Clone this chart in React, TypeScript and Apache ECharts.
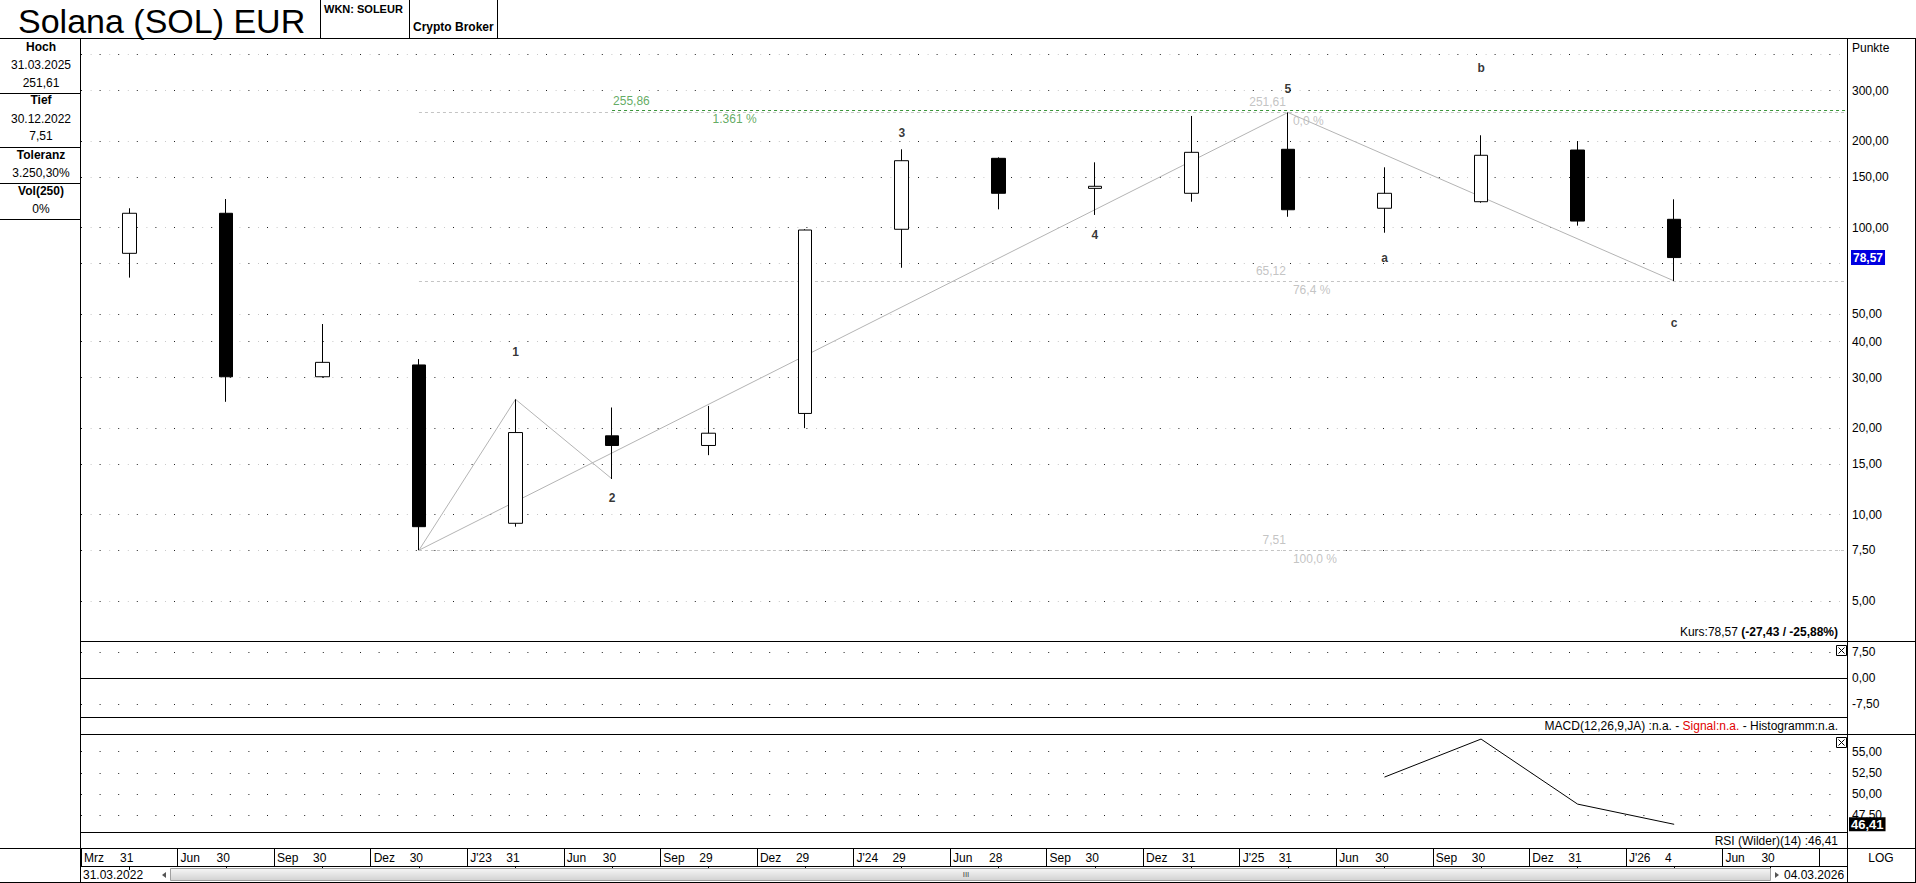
import React, { useEffect, useRef } from "react";
import * as echarts from "echarts";

const FONT = "'Liberation Sans', Arial, Helvetica, sans-serif";

// ---- data ----
const MONTHS = ["Mrz", "Jun", "Sep", "Dez", "J'23", "Jun", "Sep", "Dez", "J'24", "Jun", "Sep", "Dez", "J'25", "Jun", "Sep", "Dez", "J'26", "Jun"];
const DAYS = ["31", "30", "30", "30", "31", "30", "29", "29", "29", "28", "30", "31", "31", "30", "30", "31", "4", "30"];

const OPEN = [81.3, 112.1, 30.2, 33.2, 9.32, 18.8, 17.4, 22.5, 98.6, 174.2, 136.9, 131.6, 187.3, 116.7, 123.0, 186.2, 106.8];
const CLOSE = [112.1, 30.2, 33.9, 9.07, 19.3, 17.4, 19.2, 98.0, 170.9, 131.6, 139.2, 182.8, 115.3, 131.6, 178.5, 105.3, 78.57];
const LOW = [66.9, 24.7, 30.0, 7.51, 9.07, 13.3, 16.1, 20.0, 72.4, 115.7, 110.6, 123.0, 109.0, 95.9, 122.0, 101.5, 65.12];
const HIGH = [116.7, 125.7, 46.1, 34.8, 25.2, 23.6, 23.9, 98.6, 187.3, 175.6, 168.7, 244.7, 251.61, 162.1, 209.6, 200.1, 125.4];

const RSI_FROM = 13;
const RSI_VALUES = [52.0, 56.5, 48.8, 46.41];
const RSI_LAST = 46.41;
const LAST = 78.57;

const PRICE_TICKS = [300, 200, 150, 100, 50, 40, 30, 20, 15, 10, 7.5, 5];
const PRICE_UNLABELLED = [400, 75];
const MACD_TICKS = [7.5, -7.5];
const RSI_TICKS = [55, 52.5, 50, 47.5];

const FIB_LEVELS = [251.61, 65.12, 7.51];
const FIB_PCT = ["0,0 %", "76,4 %", "100,0 %"];
const FIB_FROM = 3; // candle of the low
const FIB_PIVOT = 12; // candle of the high
const TARGET = 255.86;
const TARGET_PCT = "1.361 %";
const TARGET_FROM = 5;

const WAVE_A = [3, 4, 5]; // low -> 1 -> 2
const WAVE_B = [3, 12, 16]; // low -> 5 -> c
const WAVE_LABELS = ["1", "2", "3", "4", "5", "a", "b", "c"];
const WAVE_IDX = [4, 5, 8, 10, 12, 13, 14, 16];
const WAVE_VAL = [36.8, 11.46, 213.4, 94.2, 303.8, 78.3, 359.6, 46.6];

// ---- layout ----
const XMAX = 18.29;
const Y_MIN = 3.625;
const Y_MAX = 457.4;

const fmt = (v: number) => v.toFixed(2).replace(".", ",");
const cx = (i: number) => i + 0.5;

const ln = (x1: number, y1: number, x2: number, y2: number, stroke = "#000") => ({
  type: "line",
  silent: true,
  z: 100,
  shape: { x1, y1, x2, y2 },
  style: { stroke, lineWidth: 1 },
});

const txt = (x: number, y: number, text: string, o: any = {}) => ({
  type: "text",
  x,
  y,
  silent: true,
  z: 101,
  style: {
    text,
    fill: o.fill || "#000",
    fontSize: o.size || 12,
    fontFamily: FONT,
    fontWeight: o.bold ? "bold" : "normal",
    align: o.align || "left",
    textAlign: o.align || "left",
    verticalAlign: "middle",
    textVerticalAlign: "middle",
    rich: o.rich,
  },
});

const closeBox = (x: number, y: number) => [
  { type: "rect", silent: true, z: 101, shape: { x, y, width: 10, height: 10 }, style: { fill: "#fff", stroke: "#000", lineWidth: 1 } },
  { ...ln(x + 2, y + 2, x + 8, y + 8), z: 102 },
  { ...ln(x + 8, y + 2, x + 2, y + 8), z: 102 },
];

function buildOption(): any {
  const candles = OPEN.map((o, i) => [cx(i), o, CLOSE[i], LOW[i], HIGH[i]]);
  const waveA = WAVE_A.map((i, k) => [cx(i), k === 1 ? HIGH[i] : LOW[i]]);
  const waveB = WAVE_B.map((i, k) => [cx(i), k === 1 ? HIGH[i] : LOW[i]]);
  const rsi = RSI_VALUES.map((v, k) => [cx(RSI_FROM + k), v]);

  const labelBase = { fontSize: 12, fontFamily: FONT, color: "#000", distance: 5 };
  const blackDots = { type: [1, 17.6], color: "#222", width: 1 };
  const grayDots = { type: [1, 17.6], color: "#c8c8c8", width: 1, dashOffset: 9.3 };

  const priceRows: any[] = [
    ...PRICE_UNLABELLED.map((v) => ({ yAxis: v, label: { show: false } })),
    ...PRICE_TICKS.map((v) => ({ yAxis: v, label: { show: true, formatter: fmt(v) } })),
    {
      yAxis: LAST,
      lineStyle: { color: "rgba(0,0,0,0)" },
      label: {
        show: true,
        formatter: fmt(LAST),
        backgroundColor: "#0000e0",
        color: "#fff",
        fontWeight: "bold",
        padding: [2, 2, 1, 2],
        distance: 4,
      },
    },
  ];

  const textItems: any[] = [
    ...WAVE_LABELS.map((t, k) => ({
      value: [cx(WAVE_IDX[k]), WAVE_VAL[k]],
      label: { formatter: t, fontWeight: "bold", color: "#000", align: "center", verticalAlign: "middle" },
    })),
    ...FIB_LEVELS.map((v) => ({
      value: [cx(FIB_PIVOT), v],
      label: { formatter: fmt(v), color: "#b4b4b4", align: "right", verticalAlign: "middle", offset: [-2, -10] },
    })),
    ...FIB_LEVELS.map((v, k) => ({
      value: [cx(FIB_PIVOT), v],
      label: { formatter: FIB_PCT[k], color: "#b4b4b4", align: "left", verticalAlign: "middle", offset: [5, 9] },
    })),
    {
      value: [cx(TARGET_FROM), TARGET],
      label: { formatter: fmt(TARGET), color: "#3a953a", align: "left", verticalAlign: "middle", offset: [1, -9] },
    },
    {
      value: [cx(TARGET_FROM + 1), TARGET],
      label: { formatter: TARGET_PCT, color: "#3a953a", align: "left", verticalAlign: "middle", offset: [4, 9] },
    },
  ];

  const graphics: any[] = [
    // header
    ln(0, 38.5, 1916, 38.5),
    ln(320.5, 0, 320.5, 38.5),
    ln(409.5, 0, 409.5, 38.5),
    ln(497.5, 0, 497.5, 38.5),
    txt(18, 21, "Solana (SOL) EUR", { size: 34 }),
    txt(324, 9, "WKN: SOLEUR", { bold: true, size: 11 }),
    txt(413, 27, "Crypto Broker", { bold: true, size: 12 }),
    // left info panel
    ln(0, 93.5, 81, 93.5),
    ln(0, 147.5, 81, 147.5),
    ln(0, 183.5, 81, 183.5),
    ln(0, 219.5, 81, 219.5),
    txt(41, 47, "Hoch", { bold: true, align: "center" }),
    txt(41, 64.5, "31.03.2025", { align: "center" }),
    txt(41, 82.5, "251,61", { align: "center" }),
    txt(41, 100, "Tief", { bold: true, align: "center" }),
    txt(41, 118.5, "30.12.2022", { align: "center" }),
    txt(41, 136, "7,51", { align: "center" }),
    txt(41, 155, "Toleranz", { bold: true, align: "center" }),
    txt(41, 173, "3.250,30%", { align: "center" }),
    txt(41, 191, "Vol(250)", { bold: true, align: "center" }),
    txt(41, 209, "0%", { align: "center" }),
    // frame
    ln(80.5, 38.5, 80.5, 883),
    ln(1847.5, 38.5, 1847.5, 883),
    ln(1915.5, 38.5, 1915.5, 883),
    ln(80.5, 641.5, 1916, 641.5),
    ln(80.5, 717.5, 1847.5, 717.5),
    ln(80.5, 734.5, 1916, 734.5),
    ln(80.5, 832.5, 1847.5, 832.5),
    ln(0, 848.5, 1916, 848.5),
    ln(80.5, 866.5, 1847.5, 866.5),
    ln(0, 882.5, 1916, 882.5),
    // right column texts
    txt(1852, 48, "Punkte"),
    txt(1881, 857.5, "LOG", { align: "center" }),
    // panel captions
    txt(1838, 632, "Kurs:78,57 {b|(-27,43 / -25,88%)}", {
      align: "right",
      rich: { b: { fontWeight: "bold", fontSize: 12, fontFamily: FONT, fill: "#000" } },
    }),
    txt(1838, 725.5, "MACD(12,26,9,JA) :n.a. - {r|Signal:n.a.} - Histogramm:n.a.", {
      align: "right",
      rich: { r: { fill: "#e00000", fontSize: 12, fontFamily: FONT } },
    }),
    txt(1838, 840.5, "RSI (Wilder)(14) :46,41", { align: "right" }),
    ...closeBox(1836.5, 645.5),
    ...closeBox(1836.5, 737.5),
    // scroll row
    txt(83, 875, "31.03.2022"),
    { type: "polygon", silent: true, z: 101, shape: { points: [[166, 872], [166, 878], [162, 875]] }, style: { fill: "#555" } },
    {
      type: "rect",
      silent: true,
      z: 100,
      shape: { x: 170.5, y: 868.5, width: 1600, height: 12 },
      style: {
        fill: new echarts.graphic.LinearGradient(0, 0, 0, 1, [
          { offset: 0, color: "#f6f6f6" },
          { offset: 1, color: "#d2d2d2" },
        ]),
        stroke: "#a0a0a0",
        lineWidth: 1,
      },
    },
    txt(966, 874.5, "III", { align: "center", size: 8, fill: "#444" }),
    { type: "polygon", silent: true, z: 101, shape: { points: [[1775, 872], [1775, 878], [1779, 875]] }, style: { fill: "#555" } },
    txt(1784, 875, "04.03.2026"),
  ];

  return {
    animation: false,
    backgroundColor: "#fff",
    textStyle: { fontFamily: FONT },
    grid: [
      { left: 81, top: 38, width: 1766, height: 603 },
      { left: 81, top: 641, width: 1766, height: 76 },
      { left: 81, top: 734, width: 1766, height: 98 },
      { left: 81, top: 848, width: 1766, height: 18 },
    ],
    xAxis: [
      { type: "value", gridIndex: 0, min: 0, max: XMAX, show: false },
      { type: "value", gridIndex: 1, min: 0, max: XMAX, show: false },
      { type: "value", gridIndex: 2, min: 0, max: XMAX, show: false },
      {
        type: "value",
        gridIndex: 3,
        min: 0,
        max: XMAX,
        interval: 1,
        position: "top",
        axisLine: { show: false },
        axisTick: { show: false, inside: true },
        minorTick: { show: true, splitNumber: 2, length: 4, lineStyle: { color: "#000", width: 1 } },
        splitLine: { show: true, lineStyle: { color: "#000", width: 1 } },
        axisLabel: {
          inside: true,
          margin: 4,
          align: "left",
          verticalAlign: "top",
          fontSize: 12,
          fontFamily: FONT,
          color: "#000",
          showMinLabel: true,
          showMaxLabel: false,
          formatter: (v: number) => {
            const i = Math.round(v);
            if (i < 0 || i >= MONTHS.length) return "";
            return `{m|${MONTHS[i]}}{d|${DAYS[i]}}`;
          },
          rich: {
            m: { width: 36, padding: [0, 0, 0, 3], fontSize: 12, fontFamily: FONT, color: "#000" },
            d: { fontSize: 12, fontFamily: FONT, color: "#000" },
          },
        },
      },
    ],
    yAxis: [
      { type: "log", logBase: 10, gridIndex: 0, min: Y_MIN, max: Y_MAX, show: false },
      { type: "value", gridIndex: 1, min: -11.2, max: 10.6, show: false },
      { type: "value", gridIndex: 2, min: 45.5, max: 57.1, show: false },
      { type: "value", gridIndex: 3, min: 0, max: 1, show: false },
    ],
    series: [
      {
        name: "Solana (SOL) EUR",
        type: "candlestick",
        xAxisIndex: 0,
        yAxisIndex: 0,
        dimensions: ["x", "open", "close", "lowest", "highest"],
        encode: { x: 0, y: [1, 2, 3, 4] },
        data: candles,
        barWidth: 14,
        z: 5,
        itemStyle: { color: "#fff", color0: "#000", borderColor: "#000", borderColor0: "#000", borderWidth: 1 },
        markLine: {
          silent: true,
          symbol: ["none", "none"],
          animation: false,
          z: 1,
          lineStyle: blackDots,
          label: { ...labelBase, position: "end" },
          data: priceRows,
        },
      },
      {
        name: "wave A",
        type: "line",
        xAxisIndex: 0,
        yAxisIndex: 0,
        data: waveA,
        symbol: "none",
        z: 3,
        lineStyle: { color: "#b4b4b4", width: 1 },
        markLine: {
          silent: true,
          symbol: ["none", "none"],
          animation: false,
          z: 1,
          lineStyle: grayDots,
          label: { show: false },
          data: [...PRICE_UNLABELLED, ...PRICE_TICKS].map((v) => ({ yAxis: v })),
        },
      },
      {
        name: "wave B",
        type: "line",
        xAxisIndex: 0,
        yAxisIndex: 0,
        data: waveB,
        symbol: "none",
        z: 3,
        lineStyle: { color: "#b4b4b4", width: 1 },
        markLine: {
          silent: true,
          symbol: ["none", "none"],
          animation: false,
          lineStyle: { type: [3, 3], color: "#c4c4c4", width: 1 },
          label: { show: false },
          data: FIB_LEVELS.map((v) => [{ coord: [cx(FIB_FROM), v] }, { coord: [XMAX, v] }]),
        },
      },
      {
        name: "labels",
        type: "scatter",
        xAxisIndex: 0,
        yAxisIndex: 0,
        symbolSize: 1,
        itemStyle: { color: "rgba(0,0,0,0)" },
        label: { show: true, position: "inside", fontSize: 12, fontFamily: FONT },
        data: textItems,
        z: 6,
        markLine: {
          silent: true,
          symbol: ["none", "none"],
          animation: false,
          lineStyle: { type: [3, 3], color: "#3a953a", width: 1 },
          label: { show: false },
          data: [[{ coord: [cx(TARGET_FROM), TARGET] }, { coord: [XMAX, TARGET] }]],
        },
      },
      {
        name: "MACD",
        type: "line",
        xAxisIndex: 1,
        yAxisIndex: 1,
        data: [],
        symbol: "none",
        markLine: {
          silent: true,
          symbol: ["none", "none"],
          animation: false,
          lineStyle: blackDots,
          label: { ...labelBase, position: "end" },
          data: [
            ...MACD_TICKS.map((v) => ({ yAxis: v, label: { show: true, formatter: fmt(v) } })),
            { yAxis: 0, lineStyle: { type: "solid", color: "#000", width: 1 }, label: { show: true, formatter: fmt(0) } },
          ],
        },
      },
      {
        name: "RSI",
        type: "line",
        xAxisIndex: 2,
        yAxisIndex: 2,
        data: rsi,
        symbol: "none",
        lineStyle: { color: "#000", width: 1 },
        markLine: {
          silent: true,
          symbol: ["none", "none"],
          animation: false,
          lineStyle: blackDots,
          label: { ...labelBase, position: "end" },
          data: [
            ...RSI_TICKS.map((v) => ({ yAxis: v, label: { show: true, formatter: fmt(v) } })),
            {
              yAxis: RSI_LAST,
              lineStyle: { color: "rgba(0,0,0,0)" },
              label: {
                show: true,
                formatter: fmt(RSI_LAST),
                backgroundColor: "#000",
                color: "#fff",
                fontWeight: "bold",
                fontSize: 13,
                padding: [1, 2, 0, 2],
                distance: 2,
              },
            },
          ],
        },
      },
    ],
    graphic: { elements: graphics },
  };
}

export default function App() {
  const ref = useRef<HTMLDivElement>(null);
  useEffect(() => {
    if (!ref.current) return;
    const chart = echarts.init(ref.current, null, { renderer: "svg" });
    chart.setOption(buildOption());
    return () => chart.dispose();
  }, []);
  return (
    <div
      ref={ref}
      style={{ position: "fixed", left: 0, top: 0, width: 1916, height: 883, background: "#fff" }}
    />
  );
}
